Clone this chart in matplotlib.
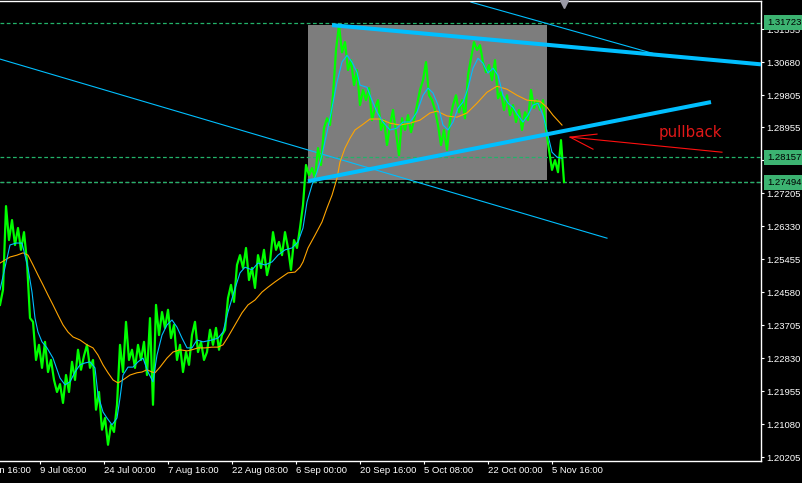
import numpy as np
import matplotlib
matplotlib.use("Agg")
import matplotlib.pyplot as plt
from matplotlib.patches import Rectangle
from matplotlib.transforms import blended_transform_factory

# GBPUSD-style H4 chart, one bar per pixel column, close sampled every 3 bars
step = 3
close = [
    1.2424, 1.2464, 1.2686, 1.2596, 1.2649, 1.2583, 1.2628, 1.2570, 1.2617, 1.2538,
    1.2389, 1.2379, 1.2278, 1.2318, 1.2257, 1.2326, 1.2246, 1.2278, 1.2225, 1.2193,
    1.2214, 1.2164, 1.2238, 1.2193, 1.2273, 1.2225, 1.2305, 1.2252, 1.2289, 1.2318,
    1.2257, 1.2278, 1.2146, 1.2193, 1.2093, 1.2124, 1.2053, 1.2106, 1.2087, 1.2159,
    1.2318, 1.2246, 1.2379, 1.2278, 1.2305, 1.2257, 1.2318, 1.2278, 1.2326, 1.2238,
    1.2389, 1.2159, 1.2424, 1.2344, 1.2405, 1.2363, 1.2411, 1.2336, 1.2371, 1.2278,
    1.2318, 1.2246, 1.2299, 1.2265, 1.2344, 1.2379, 1.2299, 1.2326, 1.2278, 1.2299,
    1.2358, 1.2318, 1.2363, 1.2305, 1.2344, 1.2358, 1.2442, 1.2477, 1.2432, 1.2530,
    1.2556, 1.2522, 1.2575, 1.2490, 1.2522, 1.2469, 1.2556, 1.2522, 1.2570, 1.2503,
    1.2538, 1.2617, 1.2570, 1.2591, 1.2556, 1.2617, 1.2575, 1.2517, 1.2596, 1.2575,
    1.2628, 1.2689, 1.2795, 1.2768, 1.2787, 1.2760, 1.2840, 1.2795, 1.2893, 1.2919,
    1.2901, 1.2980, 1.3100, 1.3166, 1.3094, 1.3121, 1.3047, 1.3073, 1.3007, 1.3047,
    1.2954, 1.2994, 1.2967, 1.2999, 1.2914, 1.2946, 1.2967, 1.2888, 1.2914, 1.2848,
    1.2901, 1.2941, 1.2882, 1.2821, 1.2919, 1.2888, 1.2927, 1.2882, 1.2914, 1.2954,
    1.2994, 1.3020, 1.3068, 1.2980, 1.2967, 1.2941, 1.2901, 1.2848, 1.2888, 1.2835,
    1.2914, 1.2954, 1.2980, 1.2935, 1.2967, 1.2919, 1.3033, 1.3078, 1.3121, 1.3100,
    1.3113, 1.3068, 1.3041, 1.3060, 1.3020, 1.3073, 1.2972, 1.2988, 1.2941, 1.2980,
    1.2927, 1.2954, 1.2909, 1.2941, 1.2888, 1.2935, 1.2914, 1.2994, 1.2946, 1.2967,
    1.2941, 1.2967, 1.2888, 1.2835, 1.2782, 1.2808, 1.2776, 1.2861, 1.2750,
]

# fast moving average (cyan)
fast_bar = [0, 10, 16, 22, 28, 32, 35, 38, 42, 47, 53, 60, 65, 70, 75, 80, 85, 90, 95, 98,
            103, 107, 112, 117, 120, 123, 128, 133, 138, 143, 148, 153, 157, 162, 167, 172,
            177, 182, 187, 192, 197, 203, 212, 218, 223, 228, 233, 240, 245, 252, 258, 265,
            272, 278, 285, 292, 298, 303, 307, 312, 317, 322, 327, 332, 337, 342, 347, 352,
            357, 360, 367, 372, 377, 383, 390, 397, 403, 410, 417, 423, 428, 433, 438, 443,
            448, 453, 458, 463, 468, 473, 478, 483, 488, 493, 498, 503, 508, 513, 518, 523,
            528, 533, 538, 543, 548, 552, 557, 562]
fast_ma = [1.2464, 1.2583, 1.2588, 1.2588, 1.2522, 1.2458, 1.2389, 1.2352, 1.2326, 1.2310,
           1.2283, 1.2230, 1.2212, 1.2220, 1.2246, 1.2265, 1.2270, 1.2273, 1.2257, 1.2185,
           1.2140, 1.2124, 1.2106, 1.2124, 1.2177, 1.2238, 1.2259, 1.2259, 1.2273, 1.2283,
           1.2246, 1.2220, 1.2291, 1.2344, 1.2371, 1.2384, 1.2365, 1.2336, 1.2310, 1.2310,
           1.2331, 1.2326, 1.2331, 1.2336, 1.2352, 1.2405, 1.2450, 1.2509, 1.2524, 1.2517,
           1.2535, 1.2530, 1.2538, 1.2556, 1.2570, 1.2575, 1.2591, 1.2628, 1.2697, 1.2742,
           1.2776, 1.2821, 1.2882, 1.2946, 1.3015, 1.3068, 1.3086, 1.3068, 1.3041, 1.3007,
           1.3001, 1.2967, 1.2935, 1.2909, 1.2888, 1.2893, 1.2909, 1.2909, 1.2935, 1.2980,
           1.2999, 1.2986, 1.2954, 1.2901, 1.2888, 1.2909, 1.2946, 1.2962, 1.2999, 1.3052,
           1.3078, 1.3065, 1.3039, 1.3052, 1.3033, 1.2980, 1.2959, 1.2948, 1.2927, 1.2909,
           1.2927, 1.2954, 1.2959, 1.2927, 1.2874, 1.2829, 1.2816, 1.2813]

# slow moving average (orange)
slow_bar = [0, 10, 17, 23, 28, 33, 38, 43, 48, 53, 58, 63, 68, 73, 80, 87, 93, 98, 103, 108,
            113, 118, 123, 130, 137, 142, 147, 152, 155, 160, 167, 173, 180, 187, 192, 198,
            205, 212, 218, 223, 228, 235, 242, 248, 255, 262, 268, 275, 282, 288, 295, 300,
            303, 308, 315, 322, 327, 332, 337, 340, 345, 350, 355, 362, 370, 380, 390, 400,
            410, 420, 430, 437, 447, 457, 467, 477, 487, 497, 507, 517, 527, 540, 547, 553,
            562]
slow_ma = [1.2535, 1.2551, 1.2556, 1.2562, 1.2556, 1.2530, 1.2503, 1.2477, 1.2450, 1.2424,
           1.2397, 1.2371, 1.2352, 1.2339, 1.2331, 1.2318, 1.2310, 1.2291, 1.2265, 1.2244,
           1.2225, 1.2217, 1.2225, 1.2238, 1.2244, 1.2246, 1.2252, 1.2246, 1.2244, 1.2259,
           1.2283, 1.2299, 1.2305, 1.2302, 1.2305, 1.2310, 1.2310, 1.2312, 1.2312, 1.2318,
           1.2339, 1.2371, 1.2403, 1.2424, 1.2437, 1.2458, 1.2471, 1.2485, 1.2498, 1.2509,
           1.2511, 1.2524, 1.2538, 1.2575, 1.2609, 1.2644, 1.2681, 1.2715, 1.2760, 1.2803,
           1.2840, 1.2866, 1.2888, 1.2901, 1.2917, 1.2917, 1.2906, 1.2901, 1.2906, 1.2914,
           1.2933, 1.2938, 1.2925, 1.2922, 1.2933, 1.2959, 1.2988, 1.3004, 1.2996, 1.2980,
           1.2967, 1.2964, 1.2948, 1.2927, 1.2901]

price_ticks = [1.31555, 1.30680, 1.29805, 1.28955, 1.28080, 1.27205, 1.26330, 1.25455,
               1.24580, 1.23705, 1.22830, 1.21955, 1.21080, 1.20205]
time_bars = [-24, 40, 104, 168, 232, 296, 360, 424, 488, 552]
time_labels = ['22 Jun 16:00', '9 Jul 08:00', '24 Jul 00:00', '7 Aug 16:00', '22 Aug 08:00',
               '6 Sep 00:00', '20 Sep 16:00', '5 Oct 08:00', '22 Oct 00:00', '5 Nov 16:00']
level_prices = [1.31723, 1.28157, 1.27494]

# drawing objects, anchored at (bar, price)
box_bars = [308, 547]
box_prices = [1.2755, 1.3166]
thick_top_bars, thick_top_prices = [332, 761], [1.3166, 1.3062]
thick_low_bars, thick_low_prices = [308, 711], [1.2752, 1.2962]
thin_long_bars, thin_long_prices = [0, 607], [1.3076, 1.2601]
thin_top_bars, thin_top_prices = [471, 653], [1.3227, 1.3091]
arrow_bars, arrow_prices = [722, 570], [1.2829, 1.2869]
head_bars, head_prices = [597, 570, 593], [1.2877, 1.2869, 1.2837]
note_bar, note_price = 659, 1.2880

W, H = 803, 483
fig = plt.figure(figsize=(W / 100, H / 100), dpi=100, facecolor='black')
ax = fig.add_axes([0, 22 / H, 761 / W, 460 / H])
ax.set_facecolor('black')
ax.set_xlim(0, 761)
ax.set_ylim(1.2010, 1.3230)

cyan = '#00bfff'
teal = '#3cb371'

ax.add_patch(Rectangle((box_bars[0], box_prices[0]), box_bars[1] - box_bars[0],
                       box_prices[1] - box_prices[0], facecolor='#7d7d7d',
                       edgecolor='none', zorder=0.5))

# bid line is grey under the green dashes
ax.axhline(level_prices[2], color='#8a8a8a', lw=0.9, dashes=(3, 2), zorder=1)
for p in level_prices:
    ax.axhline(p, color='#22b36a', lw=0.9, dashes=(3, 2), zorder=1.1)

ax.plot(thin_long_bars, thin_long_prices, color=cyan, lw=0.8, zorder=2)
ax.plot(thin_top_bars, thin_top_prices, color=cyan, lw=0.8, zorder=2)

bars = np.arange(len(close)) * step
ax.plot(bars, close, color='#00ff00', lw=1.6, zorder=3)
ax.plot(slow_bar, slow_ma, color='#ffa500', lw=0.8, zorder=4)
ax.plot(fast_bar, fast_ma, color=cyan, lw=0.8, zorder=4)

ax.plot(thick_top_bars, thick_top_prices, color=cyan, lw=2.9, zorder=5,
        solid_capstyle='butt')
ax.plot(thick_low_bars, thick_low_prices, color=cyan, lw=2.9, zorder=5,
        solid_capstyle='butt')

ax.plot(arrow_bars, arrow_prices, color='#ff1010', lw=0.8, zorder=6)
ax.plot(head_bars, head_prices, color='#ff1010', lw=0.8, zorder=6)
ax.text(note_bar, note_price, 'pullback', color='#e01818', fontsize=10.8,
        family='DejaVu Sans', ha='left', va='center', zorder=6)

# chart shift marker at the top
trans_xa = blended_transform_factory(ax.transData, ax.transAxes)
ax.plot([564], [0.993], marker='v', color='#9a9aa6', ms=5.5, transform=trans_xa,
        clip_on=False, zorder=7)

# axes frame like the terminal
ax.spines['left'].set_visible(False)
for side in ['right', 'bottom', 'top']:
    ax.spines[side].set_color('white')
    ax.spines[side].set_linewidth(1)

ax.yaxis.tick_right()
ax.set_yticks(price_ticks)
ax.set_yticklabels(['%.5f' % p for p in price_ticks])
ax.tick_params(axis='y', colors='white', direction='out', length=2.5, width=0.8,
               labelsize=6.8, pad=1.5)
for lbl in ax.get_yticklabels():
    lbl.set_family('Liberation Sans')

ax.set_xticks([b for b in time_bars if b >= 0])
ax.set_xticklabels([])
ax.tick_params(axis='x', colors='white', direction='out', length=2.5, width=0.8)
for b, lab in zip(time_bars, time_labels):
    ax.text(b, -0.021, lab, transform=trans_xa, color='white', fontsize=6.8,
            family='Liberation Sans', ha='left', va='center', clip_on=False)

# price labels for the horizontal levels
trans_ay = blended_transform_factory(ax.transAxes, ax.transData)
for p in level_prices:
    ax.text(767 / 761, p, '%.5f' % p, transform=trans_ay, color='black', fontsize=6.8,
            family='Liberation Sans', ha='left', va='center', clip_on=False, zorder=10,
            bbox=dict(boxstyle='square,pad=0.3', facecolor=teal, edgecolor='none'))

fig.savefig('out.png', dpi=100, facecolor='black')
